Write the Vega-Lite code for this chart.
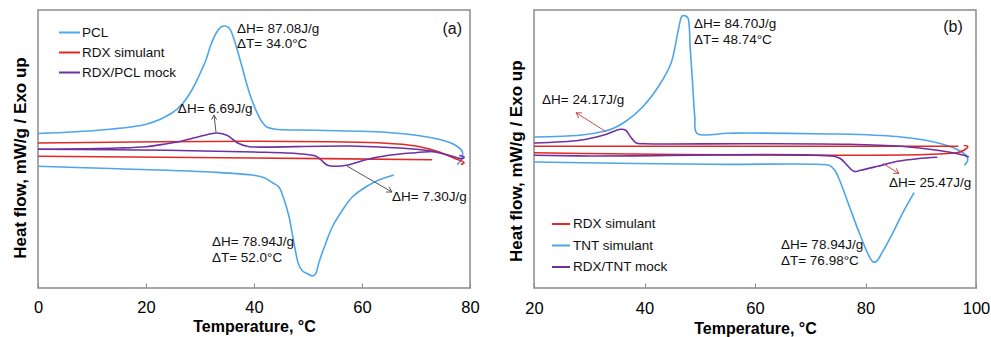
{
  "$schema": "https://vega.github.io/schema/vega-lite/v6.json",
  "background": "white",
  "padding": {"left": 10, "top": 9, "right": 0, "bottom": 0},
  "spacing": 26,
  "config": {
    "view": {"stroke": "#8a8a8a", "strokeWidth": 1.5},
    "axis": {"labelFont": "Liberation Sans", "labelFontSize": 16.5, "labelColor": "#000", "labelFlush": false, "titleFont": "Liberation Sans", "titleFontSize": 16, "titleFontWeight": "bold", "titleColor": "#000", "grid": false, "domain": false, "tickColor": "#8a8a8a", "tickSize": -5, "tickWidth": 1},
    "text": {"font": "Liberation Sans", "fontSize": 13.5, "color": "#111"}
  },
  "datasets": {
    "a_curves": [
      {"s":"PCL","k":"c","o":1,"t":0,"y":154.5},
      {"s":"PCL","k":"c","o":2,"t":11.6,"y":158},
      {"s":"PCL","k":"c","o":3,"t":20.2,"y":164},
      {"s":"PCL","k":"c","o":4,"t":24.8,"y":175},
      {"s":"PCL","k":"c","o":5,"t":26.7,"y":184},
      {"s":"PCL","k":"c","o":6,"t":28.5,"y":198},
      {"s":"PCL","k":"c","o":7,"t":29.8,"y":212},
      {"s":"PCL","k":"c","o":8,"t":31.1,"y":228},
      {"s":"PCL","k":"c","o":9,"t":32.0,"y":243},
      {"s":"PCL","k":"c","o":10,"t":33.0,"y":255},
      {"s":"PCL","k":"c","o":11,"t":33.9,"y":261},
      {"s":"PCL","k":"c","o":12,"t":34.6,"y":262},
      {"s":"PCL","k":"c","o":13,"t":35.4,"y":260},
      {"s":"PCL","k":"c","o":14,"t":36.1,"y":252},
      {"s":"PCL","k":"c","o":15,"t":36.9,"y":238},
      {"s":"PCL","k":"c","o":16,"t":37.8,"y":221},
      {"s":"PCL","k":"c","o":17,"t":38.7,"y":203},
      {"s":"PCL","k":"c","o":18,"t":39.6,"y":188},
      {"s":"PCL","k":"c","o":19,"t":40.6,"y":175},
      {"s":"PCL","k":"c","o":20,"t":41.5,"y":166},
      {"s":"PCL","k":"c","o":21,"t":42.4,"y":161},
      {"s":"PCL","k":"c","o":22,"t":43.7,"y":159},
      {"s":"PCL","k":"c","o":23,"t":51.4,"y":157.7},
      {"s":"PCL","k":"c","o":24,"t":63.7,"y":156},
      {"s":"PCL","k":"c","o":25,"t":70,"y":152.7},
      {"s":"PCL","k":"c","o":26,"t":74.9,"y":147.7},
      {"s":"PCL","k":"c","o":27,"t":77.3,"y":142.7},
      {"s":"PCL","k":"c","o":28,"t":78.6,"y":136},
      {"s":"PCL","k":"c","o":29,"t":78.3,"y":127.7},
      {"s":"PCL","k":"c","o":30,"t":77.6,"y":123.3},
      {"s":"PCL","k":"h","o":1,"t":0,"y":121.7},
      {"s":"PCL","k":"h","o":2,"t":12,"y":119.7},
      {"s":"PCL","k":"h","o":3,"t":23.9,"y":117.7},
      {"s":"PCL","k":"h","o":4,"t":32,"y":116},
      {"s":"PCL","k":"h","o":5,"t":40,"y":112.7},
      {"s":"PCL","k":"h","o":6,"t":42,"y":110},
      {"s":"PCL","k":"h","o":7,"t":43.5,"y":105},
      {"s":"PCL","k":"h","o":8,"t":44.6,"y":101},
      {"s":"PCL","k":"h","o":9,"t":45.6,"y":88},
      {"s":"PCL","k":"h","o":10,"t":46.5,"y":71},
      {"s":"PCL","k":"h","o":11,"t":47.4,"y":45},
      {"s":"PCL","k":"h","o":12,"t":48.3,"y":23},
      {"s":"PCL","k":"h","o":13,"t":49,"y":17},
      {"s":"PCL","k":"h","o":14,"t":50,"y":14},
      {"s":"PCL","k":"h","o":15,"t":50.8,"y":12},
      {"s":"PCL","k":"h","o":16,"t":51.4,"y":14},
      {"s":"PCL","k":"h","o":17,"t":52.0,"y":25},
      {"s":"PCL","k":"h","o":18,"t":53.3,"y":45},
      {"s":"PCL","k":"h","o":19,"t":54.5,"y":61},
      {"s":"PCL","k":"h","o":20,"t":56.4,"y":78},
      {"s":"PCL","k":"h","o":21,"t":58.2,"y":91},
      {"s":"PCL","k":"h","o":22,"t":60.7,"y":101},
      {"s":"PCL","k":"h","o":23,"t":63.1,"y":108},
      {"s":"PCL","k":"h","o":24,"t":65.9,"y":113},
      {"s":"RDX simulant","k":"c","o":1,"t":0,"y":145},
      {"s":"RDX simulant","k":"c","o":2,"t":40,"y":146.7},
      {"s":"RDX simulant","k":"c","o":3,"t":63.7,"y":145},
      {"s":"RDX simulant","k":"c","o":4,"t":70,"y":142},
      {"s":"RDX simulant","k":"c","o":5,"t":74.3,"y":136},
      {"s":"RDX simulant","k":"c","o":6,"t":77.3,"y":129.3},
      {"s":"RDX simulant","k":"c","o":7,"t":78.9,"y":125.3},
      {"s":"RDX simulant","k":"c","o":8,"t":78.3,"y":123.5},
      {"s":"RDX simulant","k":"h","o":1,"t":0,"y":131.7},
      {"s":"RDX simulant","k":"h","o":2,"t":40,"y":130},
      {"s":"RDX simulant","k":"h","o":3,"t":73,"y":128.3},
      {"s":"RDX/PCL mock","k":"c","o":1,"t":0,"y":138.7},
      {"s":"RDX/PCL mock","k":"c","o":2,"t":14.7,"y":140},
      {"s":"RDX/PCL mock","k":"c","o":3,"t":20,"y":141.3},
      {"s":"RDX/PCL mock","k":"c","o":4,"t":23.9,"y":144.3},
      {"s":"RDX/PCL mock","k":"c","o":5,"t":26.3,"y":146.5},
      {"s":"RDX/PCL mock","k":"c","o":6,"t":28.3,"y":149.3},
      {"s":"RDX/PCL mock","k":"c","o":7,"t":31.3,"y":153.3},
      {"s":"RDX/PCL mock","k":"c","o":8,"t":33.2,"y":155},
      {"s":"RDX/PCL mock","k":"c","o":9,"t":35,"y":152.7},
      {"s":"RDX/PCL mock","k":"c","o":10,"t":36.9,"y":145.3},
      {"s":"RDX/PCL mock","k":"c","o":11,"t":38.7,"y":141.7},
      {"s":"RDX/PCL mock","k":"c","o":12,"t":40,"y":141},
      {"s":"RDX/PCL mock","k":"c","o":13,"t":57.6,"y":142},
      {"s":"RDX/PCL mock","k":"c","o":14,"t":66.9,"y":140},
      {"s":"RDX/PCL mock","k":"c","o":15,"t":71.8,"y":137.7},
      {"s":"RDX/PCL mock","k":"c","o":16,"t":76.1,"y":132.7},
      {"s":"RDX/PCL mock","k":"c","o":17,"t":78.6,"y":129.3},
      {"s":"RDX/PCL mock","k":"c","o":18,"t":78.9,"y":131},
      {"s":"RDX/PCL mock","k":"c","o":19,"t":78,"y":132.5},
      {"s":"RDX/PCL mock","k":"h","o":1,"t":0,"y":138.7},
      {"s":"RDX/PCL mock","k":"h","o":2,"t":23.9,"y":137.7},
      {"s":"RDX/PCL mock","k":"h","o":3,"t":40,"y":136},
      {"s":"RDX/PCL mock","k":"h","o":4,"t":48.3,"y":134.3},
      {"s":"RDX/PCL mock","k":"h","o":5,"t":51.4,"y":132},
      {"s":"RDX/PCL mock","k":"h","o":6,"t":52.3,"y":128.7},
      {"s":"RDX/PCL mock","k":"h","o":7,"t":53.6,"y":122.7},
      {"s":"RDX/PCL mock","k":"h","o":8,"t":55.1,"y":121.7},
      {"s":"RDX/PCL mock","k":"h","o":9,"t":57.6,"y":123.3},
      {"s":"RDX/PCL mock","k":"h","o":10,"t":60.7,"y":128.3},
      {"s":"RDX/PCL mock","k":"h","o":11,"t":65,"y":132.7},
      {"s":"RDX/PCL mock","k":"h","o":12,"t":69.9,"y":135.3},
      {"s":"RDX/PCL mock","k":"h","o":13,"t":73.6,"y":136.7}
    ],
    "b_curves": [
      {"s":"TNT simulant","k":"c","o":1,"t":20,"y":151},
      {"s":"TNT simulant","k":"c","o":2,"t":28.3,"y":152.7},
      {"s":"TNT simulant","k":"c","o":3,"t":32.9,"y":157},
      {"s":"TNT simulant","k":"c","o":4,"t":34.5,"y":160},
      {"s":"TNT simulant","k":"c","o":5,"t":36.7,"y":167},
      {"s":"TNT simulant","k":"c","o":6,"t":39.7,"y":181.3},
      {"s":"TNT simulant","k":"c","o":7,"t":42.7,"y":203},
      {"s":"TNT simulant","k":"c","o":8,"t":44.8,"y":224.7},
      {"s":"TNT simulant","k":"c","o":9,"t":46,"y":254.7},
      {"s":"TNT simulant","k":"c","o":10,"t":46.6,"y":269.7},
      {"s":"TNT simulant","k":"c","o":11,"t":46.9,"y":272.3},
      {"s":"TNT simulant","k":"c","o":12,"t":47.6,"y":271.5},
      {"s":"TNT simulant","k":"c","o":13,"t":47.9,"y":269.5},
      {"s":"TNT simulant","k":"c","o":14,"t":48.3,"y":238},
      {"s":"TNT simulant","k":"c","o":15,"t":48.7,"y":205},
      {"s":"TNT simulant","k":"c","o":16,"t":49.1,"y":171.3},
      {"s":"TNT simulant","k":"c","o":17,"t":49.5,"y":154.7},
      {"s":"TNT simulant","k":"c","o":18,"t":55,"y":154.7},
      {"s":"TNT simulant","k":"c","o":19,"t":59.2,"y":155},
      {"s":"TNT simulant","k":"c","o":20,"t":73.3,"y":154},
      {"s":"TNT simulant","k":"c","o":21,"t":77.3,"y":153.7},
      {"s":"TNT simulant","k":"c","o":22,"t":86.4,"y":151},
      {"s":"TNT simulant","k":"c","o":23,"t":92.4,"y":146},
      {"s":"TNT simulant","k":"c","o":24,"t":96,"y":140},
      {"s":"TNT simulant","k":"c","o":25,"t":98.2,"y":132.7},
      {"s":"TNT simulant","k":"c","o":26,"t":98.5,"y":127.7},
      {"s":"TNT simulant","k":"c","o":27,"t":97.9,"y":122.7},
      {"s":"TNT simulant","k":"h","o":1,"t":20,"y":126},
      {"s":"TNT simulant","k":"h","o":2,"t":52.5,"y":123.7},
      {"s":"TNT simulant","k":"h","o":3,"t":71.3,"y":123.7},
      {"s":"TNT simulant","k":"h","o":4,"t":73.5,"y":122.5},
      {"s":"TNT simulant","k":"h","o":5,"t":74.4,"y":118},
      {"s":"TNT simulant","k":"h","o":6,"t":75.3,"y":108},
      {"s":"TNT simulant","k":"h","o":7,"t":77.1,"y":81.3},
      {"s":"TNT simulant","k":"h","o":8,"t":78.9,"y":54.7},
      {"s":"TNT simulant","k":"h","o":9,"t":80.4,"y":34.7},
      {"s":"TNT simulant","k":"h","o":10,"t":81.3,"y":26.3},
      {"s":"TNT simulant","k":"h","o":11,"t":81.9,"y":26.3},
      {"s":"TNT simulant","k":"h","o":12,"t":83.1,"y":36.3},
      {"s":"TNT simulant","k":"h","o":13,"t":84.9,"y":54.7},
      {"s":"TNT simulant","k":"h","o":14,"t":86.7,"y":74.7},
      {"s":"TNT simulant","k":"h","o":15,"t":88.8,"y":95.3},
      {"s":"RDX simulant","k":"c","o":1,"t":20,"y":141.7},
      {"s":"RDX simulant","k":"c","o":2,"t":96.8,"y":141.7},
      {"s":"RDX simulant","k":"h","o":1,"t":20,"y":135.3},
      {"s":"RDX simulant","k":"h","o":2,"t":96.5,"y":135.3},
      {"s":"RDX simulant","k":"h","o":3,"t":97.9,"y":138},
      {"s":"RDX simulant","k":"h","o":4,"t":98.5,"y":141.7},
      {"s":"RDX simulant","k":"h","o":5,"t":97.8,"y":142.5},
      {"s":"RDX/TNT mock","k":"c","o":1,"t":20,"y":145},
      {"s":"RDX/TNT mock","k":"c","o":2,"t":28.3,"y":147.7},
      {"s":"RDX/TNT mock","k":"c","o":3,"t":32.5,"y":152.7},
      {"s":"RDX/TNT mock","k":"c","o":4,"t":35.7,"y":158.7},
      {"s":"RDX/TNT mock","k":"c","o":5,"t":36.6,"y":157.7},
      {"s":"RDX/TNT mock","k":"c","o":6,"t":37.5,"y":151},
      {"s":"RDX/TNT mock","k":"c","o":7,"t":38.5,"y":145},
      {"s":"RDX/TNT mock","k":"c","o":8,"t":40,"y":144.3},
      {"s":"RDX/TNT mock","k":"c","o":9,"t":59,"y":144.3},
      {"s":"RDX/TNT mock","k":"c","o":10,"t":77,"y":143.7},
      {"s":"RDX/TNT mock","k":"c","o":11,"t":86.4,"y":141.7},
      {"s":"RDX/TNT mock","k":"c","o":12,"t":93,"y":137.7},
      {"s":"RDX/TNT mock","k":"c","o":13,"t":97.8,"y":132.7},
      {"s":"RDX/TNT mock","k":"c","o":14,"t":98.7,"y":131},
      {"s":"RDX/TNT mock","k":"h","o":1,"t":20,"y":132.7},
      {"s":"RDX/TNT mock","k":"h","o":2,"t":30,"y":132},
      {"s":"RDX/TNT mock","k":"h","o":3,"t":74.3,"y":131.7},
      {"s":"RDX/TNT mock","k":"h","o":4,"t":75.5,"y":129.3},
      {"s":"RDX/TNT mock","k":"h","o":5,"t":76.7,"y":122.7},
      {"s":"RDX/TNT mock","k":"h","o":6,"t":77.9,"y":116.7},
      {"s":"RDX/TNT mock","k":"h","o":7,"t":79.1,"y":117.7},
      {"s":"RDX/TNT mock","k":"h","o":8,"t":82.2,"y":121.7},
      {"s":"RDX/TNT mock","k":"h","o":9,"t":85.8,"y":126.7},
      {"s":"RDX/TNT mock","k":"h","o":10,"t":89.4,"y":129.3},
      {"s":"RDX/TNT mock","k":"h","o":11,"t":93,"y":130.7}
    ],
    "a_text": [
      {"label":"ΔH= 87.08J/g","t":36.85,"y":259},
      {"label":"ΔT= 34.0°C","t":36.85,"y":244},
      {"label":"ΔH= 6.69J/g","t":25.9,"y":179},
      {"label":"ΔH= 7.30J/g","t":65.56,"y":91},
      {"label":"ΔH= 78.94J/g","t":32.2,"y":46},
      {"label":"ΔT= 52.0°C","t":32.2,"y":30}
    ],
    "b_text": [
      {"label":"ΔH= 84.70J/g","t":48.96,"y":264},
      {"label":"ΔT= 48.74°C","t":48.96,"y":248},
      {"label":"ΔH= 24.17J/g","t":21.45,"y":188},
      {"label":"ΔH= 25.47J/g","t":84.25,"y":105},
      {"label":"ΔH= 78.94J/g","t":64.7,"y":43},
      {"label":"ΔT= 76.98°C","t":64.7,"y":27}
    ],
    "a_tag": [{"label":"(a)","t":76.7,"y":259}],
    "b_tag": [{"label":"(b)","t":95.84,"y":261}],
    "a_arrows": [
      {"t":32.96,"y":156,"t2":32.6,"y2":173},
      {"t":32.6,"y":173,"t2":32.14,"y2":168.5},
      {"t":32.6,"y":173,"t2":33.06,"y2":168.5},
      {"t":57.2,"y":122,"t2":65.56,"y2":96},
      {"t":65.56,"y":96,"t2":65.0,"y2":101.2},
      {"t":65.56,"y":96,"t2":64.45,"y2":96}
    ],
    "b_arrows": [
      {"t":33.03,"y":156.3,"t2":27.6,"y2":175.3},
      {"t":27.6,"y":175.3,"t2":28.1,"y2":170.0},
      {"t":27.6,"y":175.3,"t2":28.69,"y2":175.06},
      {"t":83.17,"y":124.5,"t2":86.06,"y2":114.5},
      {"t":86.06,"y":114.5,"t2":85.55,"y2":119.8},
      {"t":86.06,"y":114.5,"t2":84.97,"y2":114.7}
    ]
  },
  "resolve": {"scale": {"color": "independent", "x": "independent", "y": "independent"}, "legend": {"color": "independent"}},
  "hconcat": [
    {
      "width": 432,
      "height": 278,
      "layer": [
        {
          "data": {"name": "a_curves"},
          "mark": {"type": "line", "strokeWidth": 1.6, "interpolate": "catmull-rom"},
          "encoding": {
            "x": {"field": "t", "type": "quantitative", "scale": {"domain": [0, 80], "nice": false}, "axis": {"values": [0, 20, 40, 60, 80], "title": "Temperature, °C", "labelPadding": 16, "titlePadding": 3}},
            "y": {"field": "y", "type": "quantitative", "scale": {"domain": [0, 278], "nice": false, "zero": false}, "axis": {"labels": false, "ticks": false, "title": "Heat flow, mW/g / Exo up", "titleFontSize": 17, "titleX": -12.5, "titleY": 147.5, "titleBaseline": "alphabetic"}},
            "color": {"field": "s", "type": "nominal", "scale": {"domain": ["PCL", "RDX simulant", "RDX/PCL mock"], "range": ["#4da6ea", "#e02a26", "#7030a0"]},
              "legend": {"orient": "none", "legendX": 20, "legendY": 11, "title": null, "symbolType": "stroke", "symbolSize": 441, "symbolStrokeWidth": 2, "labelFont": "Liberation Sans", "labelFontSize": 13.5, "labelColor": "#111", "labelOffset": 1, "rowPadding": 2, "padding": 0}},
            "detail": {"field": "k"},
            "order": {"field": "o", "type": "quantitative"}
          }
        },
        {
          "data": {"name": "a_arrows"},
          "mark": {"type": "rule", "color": "#555", "strokeWidth": 1},
          "encoding": {"x": {"field": "t", "type": "quantitative"}, "y": {"field": "y", "type": "quantitative"}, "x2": {"field": "t2"}, "y2": {"field": "y2"}}
        },
        {
          "data": {"name": "a_text"},
          "mark": {"type": "text", "align": "left", "baseline": "middle"},
          "encoding": {"x": {"field": "t", "type": "quantitative"}, "y": {"field": "y", "type": "quantitative"}, "text": {"field": "label"}}
        },
        {
          "data": {"name": "a_tag"},
          "mark": {"type": "text", "align": "center", "baseline": "middle", "fontSize": 16},
          "encoding": {"x": {"field": "t", "type": "quantitative"}, "y": {"field": "y", "type": "quantitative"}, "text": {"field": "label"}}
        }
      ]
    },
    {
      "width": 442,
      "height": 278,
      "layer": [
        {
          "data": {"name": "b_curves"},
          "mark": {"type": "line", "strokeWidth": 1.6, "interpolate": "catmull-rom"},
          "encoding": {
            "x": {"field": "t", "type": "quantitative", "scale": {"domain": [20, 100], "nice": false}, "axis": {"values": [20, 40, 60, 80, 100], "title": "Temperature, °C", "labelPadding": 17.5, "titlePadding": 3}},
            "y": {"field": "y", "type": "quantitative", "scale": {"domain": [0, 278], "nice": false, "zero": false}, "axis": {"labels": false, "ticks": false, "title": "Heat flow, mW/g / Exo up", "titleFontSize": 17, "titleX": -13, "titleY": 150.7, "titleBaseline": "alphabetic"}},
            "color": {"field": "s", "type": "nominal", "scale": {"domain": ["RDX simulant", "TNT simulant", "RDX/TNT mock"], "range": ["#e02a26", "#4da6ea", "#7030a0"]},
              "legend": {"orient": "none", "legendX": 17, "legendY": 204, "title": null, "symbolType": "stroke", "symbolSize": 324, "symbolStrokeWidth": 2, "labelFont": "Liberation Sans", "labelFontSize": 13.5, "labelColor": "#111", "labelOffset": 2, "rowPadding": 4.5, "padding": 0}},
            "detail": {"field": "k"},
            "order": {"field": "o", "type": "quantitative"}
          }
        },
        {
          "data": {"name": "b_arrows"},
          "mark": {"type": "rule", "color": "#c0504d", "strokeWidth": 1},
          "encoding": {"x": {"field": "t", "type": "quantitative"}, "y": {"field": "y", "type": "quantitative"}, "x2": {"field": "t2"}, "y2": {"field": "y2"}}
        },
        {
          "data": {"name": "b_text"},
          "mark": {"type": "text", "align": "left", "baseline": "middle"},
          "encoding": {"x": {"field": "t", "type": "quantitative"}, "y": {"field": "y", "type": "quantitative"}, "text": {"field": "label"}}
        },
        {
          "data": {"name": "b_tag"},
          "mark": {"type": "text", "align": "center", "baseline": "middle", "fontSize": 16},
          "encoding": {"x": {"field": "t", "type": "quantitative"}, "y": {"field": "y", "type": "quantitative"}, "text": {"field": "label"}}
        }
      ]
    }
  ]
}
